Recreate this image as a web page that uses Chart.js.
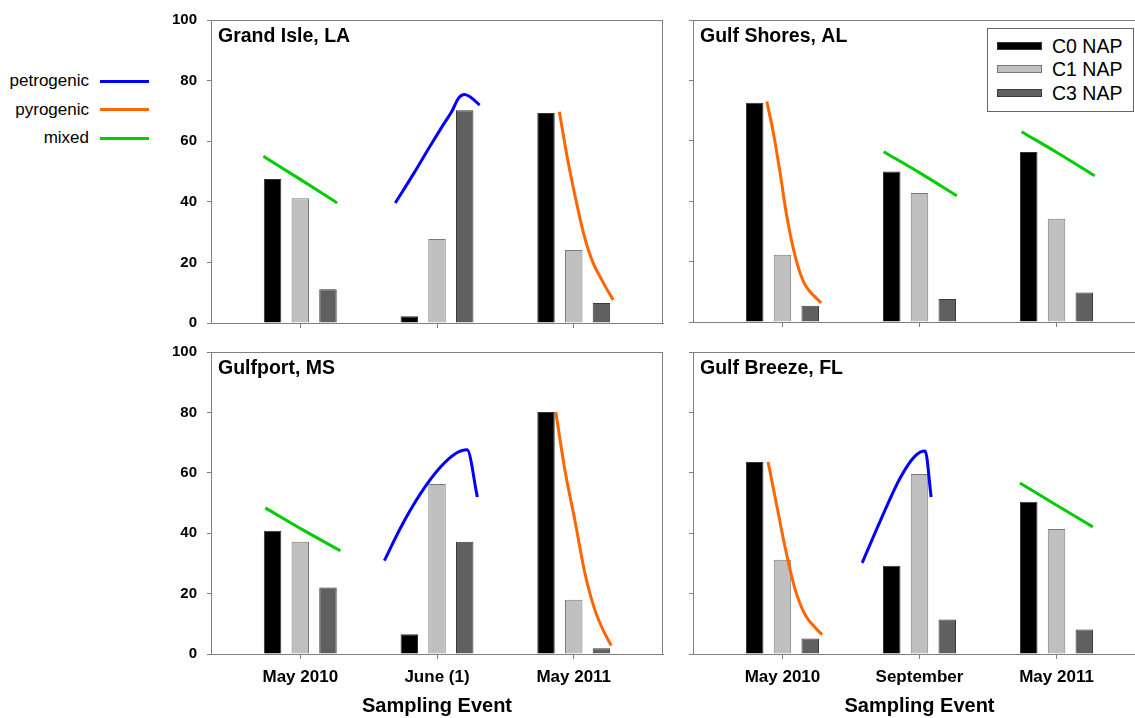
<!DOCTYPE html>
<html lang="en">
<head>
  <meta charset="UTF-8" />
  <title>NAP homologues by sampling event</title>
  <script src="https://cdn.jsdelivr.net/npm/chart.js"></script>
  <style>
    body {
      margin: 0;
      width: 1135px;
      height: 718px;
      overflow: hidden;
      position: relative;
      background: #fff;
      font-family: 'Liberation Sans', Arial, sans-serif;
      color: #000;
    }
    .panel { position: absolute; }
    .curve-key { position: absolute; left: 0; width: 150px; height: 20px; }
    .curve-key span {
      position: absolute; right: 61px; top: 0;
      line-height: 20px; font-size: 17px; white-space: nowrap;
    }
    .curve-key i { position: absolute; left: 100px; width: 49px; height: 3px; top: 8.5px; }
    .bar-key {
      position: absolute; left: 987px; top: 28px; width: 145px; height: 82px;
      border: 1px solid #666; background: #fff;
    }
    .bar-key div { position: absolute; left: 0; height: 22px; width: 145px; }
    .bar-key i {
      position: absolute; left: 9px; top: 7px; width: 43px; height: 6px;
    }
    .bar-key span {
      position: absolute; left: 64px; top: 0; line-height: 22px; font-size: 19.5px;
    }
  </style>
</head>
<body>
  <div id="curveKeys"></div>

  <div class="panel" style="left:120px;top:0"><canvas id="grandIsle" width="550" height="342"></canvas></div>
  <div class="panel" style="left:620px;top:0"><canvas id="gulfShores" width="540" height="332"></canvas></div>
  <div class="panel" style="left:120px;top:332px"><canvas id="gulfport" width="550" height="386"></canvas></div>
  <div class="panel" style="left:620px;top:332px"><canvas id="gulfBreeze" width="540" height="386"></canvas></div>

  <div class="bar-key" id="barKey"></div>

  <script>
    // categories
    const leftEvents = ['May 2010', 'June (1)', 'May 2011'];
    const rightEvents = ['May 2010', 'September', 'May 2011'];
    const seriesNames = ['C0 NAP', 'C1 NAP', 'C3 NAP'];
    const curveNames = ['petrogenic', 'pyrogenic', 'mixed'];

    // bar values (%)
    const grandIsleC0 = [47.5, 2.2, 69.3];
    const grandIsleC1 = [41.2, 27.7, 24.1];
    const grandIsleC3 = [11.1, 70.2, 6.6];

    const gulfShoresC0 = [72.6, 49.8, 56.3];
    const gulfShoresC1 = [22.3, 42.7, 34.2];
    const gulfShoresC3 = [5.4, 7.6, 9.8];

    const gulfportC0 = [40.8, 6.5, 80.1];
    const gulfportC1 = [37.2, 56.3, 18.0];
    const gulfportC3 = [22.0, 37.2, 1.9];

    const gulfBreezeC0 = [63.6, 29.2, 50.4];
    const gulfBreezeC1 = [31.2, 59.6, 41.4];
    const gulfBreezeC3 = [5.1, 11.4, 8.1];

    // sketched source curves, x in category units (0 = first event)
    const giMixedX = [-0.27, 0, 0.27];
    const giMixedY = [55.0, 47.4, 39.6];
    const giPetroX = [0.695, 0.829, 0.951, 1.037, 1.110, 1.158, 1.202, 1.244, 1.312];
    const giPetroY = [39.6, 49.3, 58.5, 64.8, 70.0, 74.2, 75.4, 74.6, 71.9];
    const giPyroX = [1.895, 1.952, 2.012, 2.073, 2.135, 2.208, 2.288];
    const giPyroY = [69.7, 54.8, 41.5, 29.4, 20.6, 14.0, 7.6];

    const gsPyroX = [-0.114, -0.066, -0.017, 0.032, 0.093, 0.153, 0.282];
    const gsPyroY = [73.0, 62.5, 49.3, 34.9, 21.7, 13.4, 6.3];
    const gsMixedAX = [0.738, 1.005, 1.273];
    const gsMixedAY = [56.4, 49.3, 41.8];
    const gsMixedBX = [1.745, 2.012, 2.279];
    const gsMixedBY = [63.0, 55.9, 48.4];

    const gpMixedX = [-0.256, 0.019, 0.293];
    const gpMixedY = [48.4, 41.1, 34.2];
    const gpPetroX = [0.615, 0.73, 0.878, 1.024, 1.134, 1.22, 1.295];
    const gpPetroY = [30.9, 41.5, 53.0, 61.8, 66.3, 67.6, 52.0];
    const gpPyroX = [1.869, 1.935, 2.008, 2.081, 2.154, 2.227, 2.275];
    const gpPyroY = [80.1, 61.0, 44.4, 26.9, 14.7, 6.8, 2.8];

    const gbPyroX = [-0.105, -0.054, 0.02, 0.093, 0.165, 0.238, 0.289];
    const gbPyroY = [63.6, 52.0, 35.2, 21.3, 13.0, 8.8, 6.4];
    const gbPetroX = [0.582, 0.714, 0.859, 0.969, 1.041, 1.085];
    const gbPetroY = [30.2, 44.1, 58.3, 65.6, 67.2, 52.0];
    const gbMixedX = [1.733, 1.995, 2.265];
    const gbMixedY = [56.6, 49.4, 42.1];

    const gray = '#808080';
    const barFill = ['#000000', '#c0c0c0', '#606060'];
    const barEdge = ['#333333', '#7a7a7a', '#3a3a3a'];
    const curveColor = { petrogenic: '#0000ff', pyrogenic: '#ff6600', mixed: '#00cc00' };

    Chart.defaults.font.family = "'Liberation Sans', Arial, sans-serif";
    Chart.defaults.color = '#000';

    // legends
    const curveKeys = document.getElementById('curveKeys');
    curveNames.forEach((n, i) => {
      const d = document.createElement('div');
      d.className = 'curve-key';
      d.style.top = (71 + i * 28.6) + 'px';
      d.innerHTML = `<span>${n}</span><i style="background:${curveColor[n]}"></i>`;
      curveKeys.appendChild(d);
    });
    const barKey = document.getElementById('barKey');
    seriesNames.forEach((n, i) => {
      const d = document.createElement('div');
      d.style.top = (6 + i * 23.3) + 'px';
      d.innerHTML = `<i style="background:${barFill[i]};border:1px solid ${barEdge[i]}"></i><span>${n}</span>`;
      barKey.appendChild(d);
    });

    const framePlugin = {
      id: 'frame',
      afterDraw(chart, args, opts) {
        const { ctx, chartArea: a } = chart;
        ctx.save();
        ctx.strokeStyle = gray;
        ctx.lineWidth = 1;
        ctx.beginPath();
        ctx.moveTo(a.left, Math.round(a.top) + 0.5);
        ctx.lineTo(a.right, Math.round(a.top) + 0.5);
        ctx.moveTo(Math.round(a.right) - 0.5, a.top);
        ctx.lineTo(Math.round(a.right) - 0.5, a.bottom);
        ctx.stroke();
        ctx.fillStyle = '#000';
        ctx.font = "bold 19.5px 'Liberation Sans', Arial, sans-serif";
        ctx.textBaseline = 'middle';
        ctx.fillText(opts.name, a.left + 7, a.top + 17);
        ctx.restore();
      }
    };

    function bars(vals, i) {
      return {
        type: 'bar',
        label: seriesNames[i],
        data: vals.map((y, x) => ({ x, y })),
        backgroundColor: barFill[i],
        borderColor: barEdge[i],
        borderWidth: 1,
        categoryPercentage: 0.608,
        barPercentage: 0.63,
        order: 1
      };
    }

    function curve(xs, ys, kind) {
      return {
        type: 'line',
        label: kind,
        data: xs.map((x, i) => ({ x, y: ys[i] })),
        borderColor: curveColor[kind],
        borderWidth: 3,
        pointRadius: 0,
        cubicInterpolationMode: 'monotone',
        fill: false,
        order: 0
      };
    }

    function makePanel(id, name, events, c0, c1, c3, curves, opt) {
      new Chart(document.getElementById(id), {
        type: 'bar',
        data: { datasets: [...curves, bars(c0, 0), bars(c1, 1), bars(c3, 2)] },
        options: {
          responsive: false,
          animation: false,
          events: [],
          layout: { padding: { top: 20, right: opt.right, left: 0, bottom: 0 } },
          plugins: { legend: { display: false }, tooltip: { enabled: false }, frame: { name } },
          scales: {
            x: {
              type: 'linear',
              min: -0.653,
              max: 2.653,
              offset: false,
              afterBuildTicks: a => { a.ticks = events.map((e, i) => ({ value: i })); },
              afterFit: a => { a.height = opt.xh; },
              grid: { offset: false, drawOnChartArea: false, tickLength: 5, color: gray },
              border: { color: gray },
              ticks: {
                display: opt.labels,
                autoSkip: false,
                maxRotation: 0,
                padding: 8,
                font: { size: 17, weight: 'bold' },
                callback: v => events[v]
              },
              title: {
                display: opt.labels,
                text: 'Sampling Event',
                font: { size: 20, weight: 'bold' },
                padding: { top: 0, bottom: 0 }
              }
            },
            y: {
              min: 0,
              max: 100,
              afterFit: a => { a.width = opt.yw; },
              grid: { drawOnChartArea: false, tickLength: 4, color: gray },
              border: { color: gray },
              ticks: {
                stepSize: 20,
                display: opt.yLabels,
                padding: 10,
                font: { size: 15, weight: 'bold' }
              }
            }
          }
        },
        plugins: [framePlugin]
      });
    }

    makePanel('grandIsle', 'Grand Isle, LA', leftEvents, grandIsleC0, grandIsleC1, grandIsleC3, [
      curve(giMixedX, giMixedY, 'mixed'),
      curve(giPetroX, giPetroY, 'petrogenic'),
      curve(giPyroX, giPyroY, 'pyrogenic')
    ], { right: 7, xh: 10, yw: 91, labels: false, yLabels: true });

    makePanel('gulfShores', 'Gulf Shores, AL', rightEvents, gulfShoresC0, gulfShoresC1, gulfShoresC3, [
      curve(gsPyroX, gsPyroY, 'pyrogenic'),
      curve(gsMixedAX, gsMixedAY, 'mixed'),
      curve(gsMixedBX, gsMixedBY, 'mixed')
    ], { right: 14, xh: 10, yw: 73, labels: false, yLabels: false });

    makePanel('gulfport', 'Gulfport, MS', leftEvents, gulfportC0, gulfportC1, gulfportC3, [
      curve(gpMixedX, gpMixedY, 'mixed'),
      curve(gpPetroX, gpPetroY, 'petrogenic'),
      curve(gpPyroX, gpPyroY, 'pyrogenic')
    ], { right: 7, xh: 64, yw: 91, labels: true, yLabels: true });

    makePanel('gulfBreeze', 'Gulf Breeze, FL', rightEvents, gulfBreezeC0, gulfBreezeC1, gulfBreezeC3, [
      curve(gbPyroX, gbPyroY, 'pyrogenic'),
      curve(gbPetroX, gbPetroY, 'petrogenic'),
      curve(gbMixedX, gbMixedY, 'mixed')
    ], { right: 14, xh: 64, yw: 73, labels: true, yLabels: false });
  </script>
</body>
</html>
